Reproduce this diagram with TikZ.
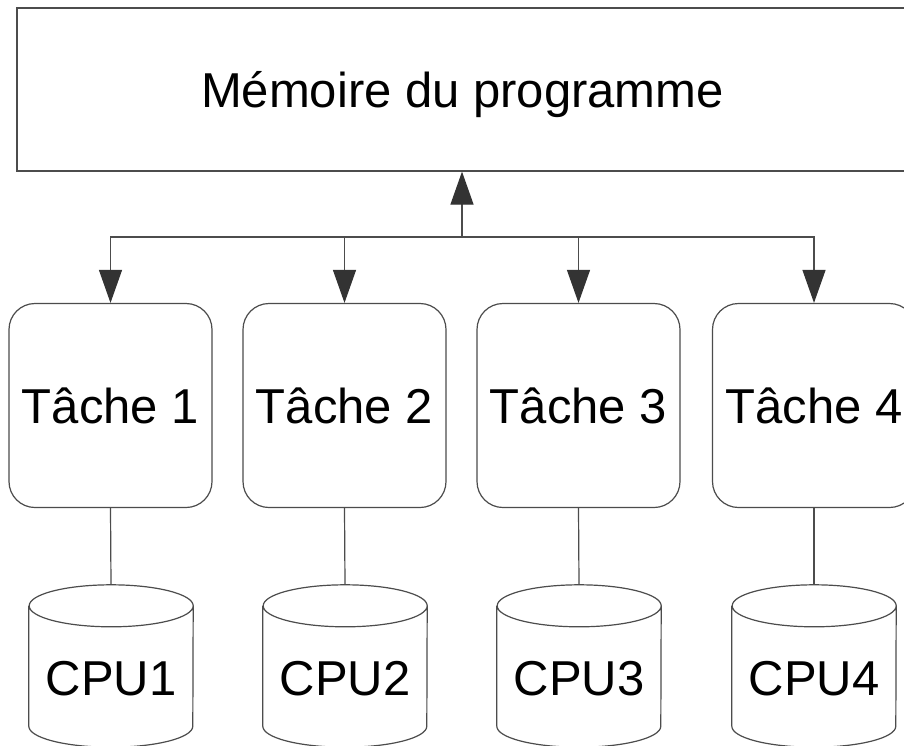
\documentclass[tikz,border=0pt]{standalone}
\usepackage{fontspec}
\setmainfont{Liberation Sans}
\usetikzlibrary{arrows.meta}
\begin{document}
\begin{tikzpicture}[x=1pt,y=-1pt,
  ln/.style={draw=black!70, line width=1.2pt},
  arr/.style={ln, -{Triangle[length=33pt,width=23pt]}, arrows={[fill=black!80,color=black!80]}},
  txt/.style={font=\fontsize{49}{58}\selectfont, text height=35pt, text depth=0pt, inner sep=0pt},
  membox/.style={txt, ln, minimum width=891pt, minimum height=163pt},
  taskbox/.style={txt, ln, rounded corners=26pt, minimum width=203pt, minimum height=204pt},
  cpubox/.style={font=\fontsize{49}{58}\selectfont, text height=58pt, text depth=0pt, inner sep=0pt, minimum width=164pt, minimum height=162pt},
]
\useasboundingbox (0,0) rectangle (904,745);
\clip (0,0) rectangle (904,745);
\fill[white] (0,0) rectangle (904,745);

\node[membox] (mem) at (462.5,89.5) {Mémoire du programme};

\node[taskbox] (t1) at (110.5,405.5) {Tâche 1};
\node[taskbox] (t2) at (344.5,405.5) {Tâche 2};
\node[taskbox] (t3) at (578.5,405.5) {Tâche 3};
\node[taskbox] (t4) at (814,405.5) {Tâche 4};

\node[cpubox] (c1) at (111,666) {CPU1};
\node[cpubox] (c2) at (345,666) {CPU2};
\node[cpubox] (c3) at (579,666) {CPU3};
\node[cpubox] (c4) at (814,666) {CPU4};

\foreach \c in {c1,c2,c3,c4}{
  \draw[ln] ([yshift=-21pt]\c.north west) -- ([yshift=21pt]\c.south west)
    arc[start angle=180, end angle=360, x radius=82pt, y radius=21pt]
    -- ([yshift=-21pt]\c.north east)
    arc[start angle=0, end angle=180, x radius=82pt, y radius=21pt]
    arc[start angle=180, end angle=360, x radius=82pt, y radius=21pt];
}

\coordinate (j) at (462,237);
\draw[arr] (j) -- (j |- mem.south);
\draw[arr] (j) -| (t1.north);
\draw[arr] (j) -| (t2.north);
\draw[arr] (j) -| (t3.north);
\draw[arr] (j) -| (t4.north);

\draw[ln] (t1.south) -- (c1.north);
\draw[ln] (t2.south) -- (c2.north);
\draw[ln] (t3.south) -- (c3.north);
\draw[ln] (t4.south) -- (c4.north);
\end{tikzpicture}
\end{document}
